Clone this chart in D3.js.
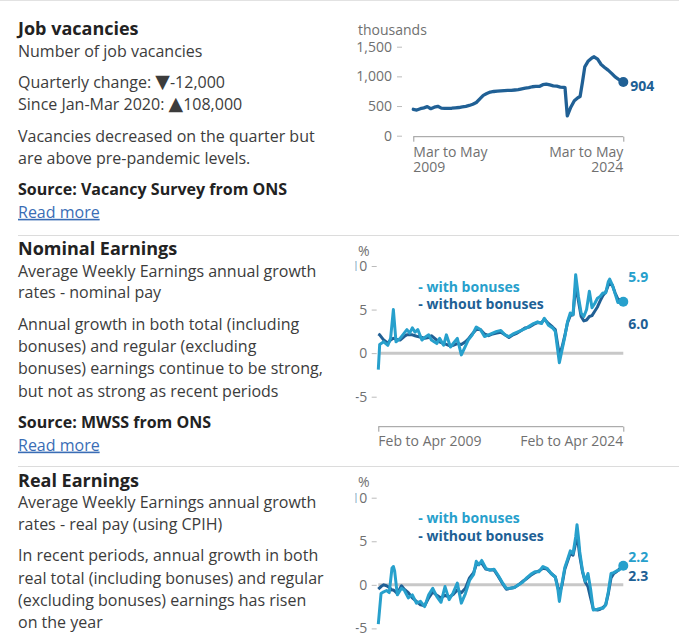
<!DOCTYPE html>
<html><head><meta charset="utf-8">
<script src="https://cdn.jsdelivr.net/npm/d3@7"></script>
<style>
body{margin:0;background:#fff;}
svg{display:block;font-family:"Open Sans",sans-serif;}
</style></head><body>
<svg id="c" width="679" height="640"></svg>
<script>
// ---------- DATA ----------
// Job vacancies (thousands), rolling quarter, mid-month of period
const vacPeriods = ["2009-04","2009-07","2009-10","2010-01","2010-04","2010-07","2010-10","2011-01","2011-04","2011-07","2011-10","2012-01","2012-04","2012-07","2012-10","2013-01","2013-04","2013-07","2013-10","2014-01","2014-04","2014-07","2014-10","2015-01","2015-04","2015-07","2015-10","2016-01","2016-04","2016-07","2016-10","2017-01","2017-04","2017-07","2017-10","2018-01","2018-04","2018-07","2018-10","2019-01","2019-04","2019-07","2019-10","2020-01","2020-02","2020-04","2020-07","2020-10","2021-01","2021-03","2021-05","2021-07","2021-10","2022-01","2022-03","2022-06","2022-09","2022-12","2023-03","2023-06","2023-09","2023-12","2024-03","2024-04"];
const vacValues = [445,433,455,470,489,455,480,495,465,460,462,463,470,475,485,495,510,530,560,620,680,710,735,745,750,755,760,765,765,770,775,790,800,810,825,830,830,860,870,855,840,835,820,815,810,335,480,590,640,660,900,1160,1260,1310,1330,1290,1200,1150,1105,1050,990,950,916,904];
const vacTicks = [0,500,1000,1500];
const vacYLabel = "thousands";
const vacXLabels = [["Mar to May","2009"],["Mar to May","2024"]];
const vacLatest = "904";

// Nominal earnings annual growth (%)
const nomPeriods = ["2009-03","2009-04","2009-07","2009-10","2009-12","2010-02","2010-04","2010-07","2010-10","2010-12","2011-02","2011-04","2011-06","2011-08","2011-11","2012-01","2012-04","2012-06","2012-10","2012-12","2013-03","2013-05","2013-08","2013-10","2014-01","2014-04","2014-07","2014-09","2014-12","2015-03","2015-06","2015-09","2015-12","2016-03","2016-06","2016-09","2016-12","2017-03","2017-06","2017-09","2017-12","2018-03","2018-06","2018-09","2018-12","2019-03","2019-05","2019-08","2019-11","2020-01","2020-04","2020-06","2020-08","2020-10","2020-12","2021-02","2021-04","2021-06","2021-08","2021-10","2021-12","2022-02","2022-04","2022-06","2022-08","2022-10","2022-12","2023-02","2023-04","2023-05","2023-07","2023-09","2023-11","2024-01","2024-03"];
const nomWith = [-1.9,1.0,1.3,0.9,1.7,5.0,1.3,1.7,2.3,2.7,2.3,2.9,2.4,2.7,1.5,1.8,2.1,1.5,1.1,1.7,0.9,2.1,0.7,1.1,1.7,-0.2,0.8,1.5,2.1,3.0,2.7,1.9,2.1,2.3,2.5,2.6,2.1,1.9,2.2,2.4,2.6,2.8,3.1,3.4,3.6,3.4,4.0,3.2,2.9,2.5,-1.1,0.4,1.9,3.6,4.6,4.4,9.0,6.5,4.6,4.2,5.0,7.1,5.2,5.7,6.3,6.5,6.9,6.9,8.2,8.5,7.8,6.8,5.8,5.8,5.9];
const nomWithout = [2.2,2.1,1.5,1.15,1.5,1.7,1.6,1.5,1.9,2.1,2.1,2.1,2.0,1.9,1.8,1.7,1.8,2.0,1.5,1.3,1.1,1.0,0.8,0.9,1.1,1.0,1.3,1.6,2.2,2.7,2.7,2.2,2.0,2.2,2.3,2.4,2.1,1.8,2.1,2.3,2.6,2.9,3.0,3.3,3.5,3.5,3.9,3.4,3.0,2.7,-0.2,0.7,2.0,3.5,4.3,4.4,7.8,6.0,4.2,3.7,3.8,4.2,4.3,4.8,5.3,6.0,6.6,7.0,7.8,7.9,7.8,6.9,6.2,6.1,6.0];

// Real earnings annual growth (%)
const realPeriods = ["2009-03","2009-05","2009-07","2009-09","2009-11","2010-01","2010-02","2010-03","2010-05","2010-08","2010-10","2011-01","2011-04","2011-07","2011-10","2012-01","2012-04","2012-07","2012-10","2013-01","2013-04","2013-07","2013-10","2014-01","2014-04","2014-07","2014-10","2015-01","2015-03","2015-05","2015-07","2015-10","2016-01","2016-04","2016-07","2016-10","2017-01","2017-04","2017-07","2017-10","2018-01","2018-04","2018-07","2018-10","2019-01","2019-04","2019-07","2019-10","2020-01","2020-03","2020-04","2020-06","2020-08","2020-10","2020-12","2021-02","2021-04","2021-05","2021-06","2021-07","2021-09","2021-11","2022-01","2022-03","2022-05","2022-08","2022-10","2022-12","2023-02","2023-04","2023-06","2023-08","2023-10","2023-12","2024-02","2024-03"];
const realWith = [-4.5,-1.0,-0.8,-0.65,-0.9,1.9,2.1,1.6,-1.15,-0.4,-0.6,-1.5,-1.15,-2.1,-1.9,-2.5,-1.15,-0.4,-1.35,-2.0,-0.2,-1.7,-0.9,0.2,-2.1,-1.0,0.5,1.2,2.7,2.3,2.8,1.9,1.7,1.8,1.1,0.3,-0.4,-0.4,-0.3,0.0,0.3,0.8,1.2,1.5,1.5,2.1,1.9,1.3,0.9,-0.6,-1.9,0.2,2.0,2.9,3.9,3.6,5.5,6.9,5.5,3.8,1.6,0.4,1.3,-0.5,-2.9,-2.8,-2.7,-2.7,-2.3,-0.8,1.3,1.4,1.6,1.7,2.0,2.2];
const realWithout = [-0.5,-0.2,0.0,-0.1,-0.3,-0.6,-0.6,-0.7,-1.0,-0.1,-0.5,-0.9,-1.5,-1.9,-2.3,-2.4,-1.5,-0.8,-1.2,-1.5,-1.2,-1.4,-1.1,-0.6,-0.9,-0.4,0.8,1.4,2.3,2.4,2.5,1.8,1.7,1.7,1.0,0.2,-0.5,-0.4,-0.3,0.0,0.4,0.7,1.1,1.4,1.6,1.9,1.8,1.3,0.9,-0.3,-1.0,0.0,1.8,2.7,3.6,3.4,4.8,5.4,4.6,3.3,1.5,0.3,-0.2,-1.5,-2.8,-2.9,-2.8,-2.6,-2.3,-1.0,0.8,1.3,1.5,1.8,2.1,2.3];

const earnTicks = [10,5,0,-5];
const earnTickLabels = ["10","5","0","-5"];
const earnXLabels = ["Feb to Apr 2009","Feb to Apr 2024"];
const seriesNames = ["- with bonuses","- without bonuses"];
const nomLatest = ["5.9","6.0"];
const realLatest = ["2.2","2.3"];

// Text blocks
const sections = [
  {title:"Job vacancies", sub:["Number of job vacancies"], stats:["Quarterly change: \u25BC-12,000","Since Jan-Mar 2020: \u25B2108,000"],
   body:["Vacancies decreased on the quarter but","are above pre-pandemic levels."], source:"Source: Vacancy Survey from ONS", link:"Read more"},
  {title:"Nominal Earnings", sub:["Average Weekly Earnings annual growth","rates - nominal pay"], stats:[],
   body:["Annual growth in both total (including","bonuses) and regular (excluding","bonuses) earnings continue to be strong,","but not as strong as recent periods"], source:"Source: MWSS from ONS", link:"Read more"},
  {title:"Real Earnings", sub:["Average Weekly Earnings annual growth","rates - real pay (using CPIH)"], stats:[],
   body:["In recent periods, annual growth in both","real total (including bonuses) and regular","(excluding bonuses) earnings has risen","on the year"], source:null, link:null}
];

// ---------- DRAW ----------
const DARK = "#206095", LIGHT = "#27a0cc", GREY = "#707070", TXT = "#3c3c3c";
const svg = d3.select("#c");
const parse = d3.timeParse("%Y-%m");

// borders
svg.append("line").attr("x1",0).attr("x2",679).attr("y1",0.5).attr("y2",0.5).attr("stroke","#e2e2e2");
[235.5,466.5].forEach(y=>svg.append("line").attr("x1",18).attr("x2",679).attr("y1",y).attr("y2",y).attr("stroke","#dcdcdc"));

// left text
const secTop = [0, 220, 451.7];
sections.forEach((s,i)=>{
  const g = svg.append("g").attr("transform",`translate(18,${secTop[i]})`);
  g.append("text").attr("x",0).attr("y",35).attr("font-size",18).attr("font-weight",700).attr("fill","#222").text(s.title);
  let y = 56.8;
  s.sub.forEach(t=>{ g.append("text").attr("x",0).attr("y",y).attr("font-size",16).attr("fill",TXT).text(t); y+=21.6; });
  y += 9.8;
  s.stats.forEach(t=>{
    const tx = g.append("text").attr("x",0).attr("y",y).attr("font-size",16).attr("fill",TXT);
    const m = t.match(/^(.*?)([\u25B2\u25BC])(.*)$/);
    tx.append("tspan").text(m[1]);
    tx.append("tspan").attr("font-family","DejaVu Sans").attr("font-size",19).text(m[2]);
    tx.append("tspan").text(m[3]);
    y+=21.7; });
  if(s.stats.length) y += 10;
  s.body.forEach(t=>{ g.append("text").attr("x",0).attr("y",y).attr("font-size",16).attr("fill",TXT).text(t); y+=22.3; });
  if(s.source){
    y += 8.6;
    g.append("text").attr("x",0).attr("y",y).attr("font-size",16).attr("font-weight",700).attr("fill","#222").text(s.source);
    y += 23;
    g.append("text").attr("x",0).attr("y",y).attr("font-size",16).attr("fill","#3a6db5").attr("text-decoration","underline").text(s.link);
  }
});

// clip for right column
svg.append("clipPath").attr("id","rc").append("rect").attr("x",355.6).attr("y",0).attr("width",330).attr("height",640);
const right = svg.append("g").attr("clip-path","url(#rc)");

// ---- Vacancies chart ----
(function(){
  const data = vacPeriods.map((p,i)=>({d:parse(p),v:vacValues[i]}));
  const x = d3.scaleTime().domain([parse(vacPeriods[0]),parse(vacPeriods[vacPeriods.length-1])]).range([413.3,623.3]);
  const y = d3.scaleLinear().domain([0,1500]).range([135.7,46.7]);
  const g = right.append("g");
  g.append("text").attr("x",358).attr("y",35).attr("font-size",14).attr("fill",GREY).text(vacYLabel);
  const ya = d3.axisLeft(y).tickValues(vacTicks).tickFormat(d3.format(",")).tickSize(5).tickPadding(5);
  const yg = g.append("g").attr("transform","translate(402,0)").call(ya);
  yg.select(".domain").remove();
  yg.selectAll(".tick line").attr("stroke","#bbb");
  yg.selectAll(".tick text").attr("font-size",14).attr("fill",GREY).attr("font-family","Open Sans");
  const xa = d3.axisBottom(x).tickValues(x.domain()).tickSize(5).tickFormat("");
  const xg = g.append("g").attr("transform","translate(0,136.7)").call(xa);
  xg.select(".domain").attr("stroke","#999").attr("d",`M${x.range()[0]},0H${x.range()[1]}`);
  xg.selectAll(".tick line").attr("stroke","#999");
  vacXLabels.forEach((lab,i)=>{
    const xx = x(x.domain()[i]);
    lab.forEach((t,j)=>g.append("text").attr("x",xx).attr("y",157+j*15).attr("font-size",14).attr("fill",GREY)
      .attr("text-anchor",i===0?"start":"end").text(t));
  });
  const line = d3.line().x(d=>x(d.d)).y(d=>y(d.v));
  g.append("path").datum(data).attr("d",line).attr("fill","none").attr("stroke",DARK).attr("stroke-width",3.3).attr("stroke-linejoin","round").attr("stroke-linecap","round");
  const last = data[data.length-1];
  g.append("circle").attr("cx",x(last.d)).attr("cy",y(last.v)).attr("r",5).attr("fill",DARK);
  g.append("text").attr("x",x(last.d)+7).attr("y",y(last.v)+4).attr("dy","0.35em").attr("font-size",14).attr("font-weight",700).attr("fill",DARK).text(vacLatest);
})();

// ---- Earnings charts ----
function earnChart(off, periods, withV, withoutV, latest, labOffsets, showX){
  const dates = periods.map(parse);
  const x = d3.scaleTime().domain([dates[0],dates[dates.length-1]]).range([378.3,623.3]);
  const y = d3.scaleLinear().domain([-5,10]).range([396.7+off,266+off]);
  const g = right.append("g");
  g.append("text").attr("x",358).attr("y",255.7+off).attr("font-size",14).attr("fill",GREY).text("%");
  const ya = d3.axisLeft(y).tickValues(earnTicks).tickFormat((d,i)=>earnTickLabels[i]).tickSize(5).tickPadding(4.5);
  const yg = g.append("g").attr("transform","translate(376.7,0)").call(ya);
  yg.select(".domain").remove();
  yg.selectAll(".tick line").attr("stroke","#bbb");
  yg.selectAll(".tick text").attr("font-size",14).attr("fill",GREY).attr("font-family","Open Sans");
  g.append("line").attr("x1",x.range()[0]).attr("x2",x.range()[1]).attr("y1",y(0)).attr("y2",y(0)).attr("stroke","#c8c8c8").attr("stroke-width",3);
  if(showX){
    const xa = d3.axisBottom(x).tickValues(x.domain()).tickSize(5).tickFormat("");
    const xg = g.append("g").attr("transform",`translate(0,${426.7+off})`).call(xa);
    xg.select(".domain").attr("stroke","#999").attr("d",`M${x.range()[0]},0H${x.range()[1]}`);
    xg.selectAll(".tick line").attr("stroke","#999");
    earnXLabels.forEach((t,i)=>g.append("text").attr("x",x.range()[i]).attr("y",445.7+off).attr("font-size",14).attr("fill",GREY)
       .attr("text-anchor",i===0?"start":"end").text(t));
  }
  const line = d3.line().x((d,i)=>x(dates[i])).y(d=>y(d));
  g.append("path").datum(withoutV).attr("d",line).attr("fill","none").attr("stroke",DARK).attr("stroke-width",3).attr("stroke-linejoin","round");
  g.append("path").datum(withV).attr("d",line).attr("fill","none").attr("stroke",LIGHT).attr("stroke-width",3).attr("stroke-linejoin","round");
  const lx = x(dates[dates.length-1]), ly = y(withV[withV.length-1]);
  g.append("circle").attr("cx",lx).attr("cy",ly).attr("r",5).attr("fill",LIGHT);
  g.append("text").attr("x",lx+5).attr("y",ly+labOffsets[0]).attr("dy","0.35em").attr("font-size",14).attr("font-weight",700).attr("fill",LIGHT).text(latest[0]);
  g.append("text").attr("x",lx+5).attr("y",ly+labOffsets[1]).attr("dy","0.35em").attr("font-size",14).attr("font-weight",700).attr("fill",DARK).text(latest[1]);
  g.append("text").attr("x",418.3).attr("y",286.7+off).attr("dy","0.35em").attr("font-size",14).attr("font-weight",700).attr("fill",LIGHT).text(seriesNames[0]);
  g.append("text").attr("x",418.3).attr("y",304.3+off).attr("dy","0.35em").attr("font-size",14).attr("font-weight",700).attr("fill",DARK).text(seriesNames[1]);
}
earnChart(0, nomPeriods, nomWith, nomWithout, nomLatest, [-25,22], true);
earnChart(231.7, realPeriods, realWith, realWithout, realLatest, [-9,10], false);
</script>
</body></html>
